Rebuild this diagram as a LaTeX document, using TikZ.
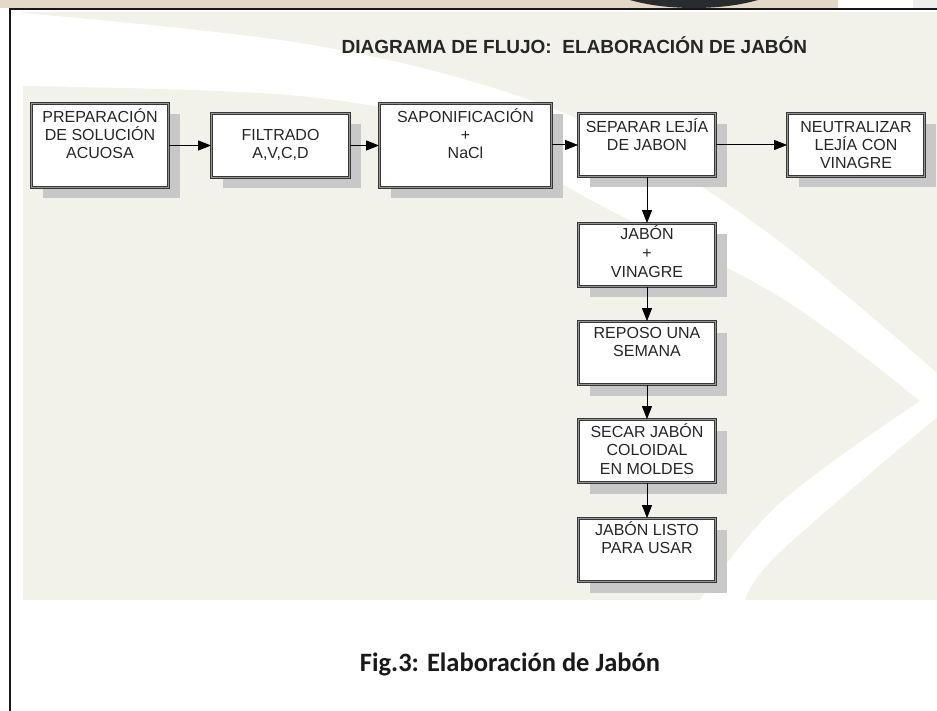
\documentclass[tikz,border=0pt]{standalone}
\usepackage{fontspec}
\setmainfont{Liberation Sans}
\newfontfamily\capfont{Carlito}
\usetikzlibrary{arrows.meta,shadows}
\definecolor{bgbeige}{RGB}{242,242,235}
\definecolor{tanstrip}{RGB}{227,217,198}
\definecolor{shadowgray}{RGB}{200,200,200}
\definecolor{borderdark}{RGB}{55,55,55}
\definecolor{bordergap}{RGB}{150,150,150}
\definecolor{darkoval}{RGB}{40,44,46}
\definecolor{stripgray}{RGB}{238,238,238}
\newcommand\firststrut{\rule{0pt}{15pt}}
\begin{document}
\begin{tikzpicture}[x=1pt,y=-1pt,
  stepbox/.style={draw=borderdark, line width=0.8pt, double=bordergap, double distance=1.4pt,
    fill=white, inner sep=0pt,
    general shadow={fill=shadowgray, shadow xshift=11pt, shadow yshift=-11pt}},
  boxtext/.style={anchor=north, inner sep=0pt, align=center,
    font=\fontsize{16}{18.4}\selectfont, text=black!85},
  flow/.style={draw=black, line width=1pt, -{Triangle[length=13pt,width=10pt]}}]
\useasboundingbox (0,0) rectangle (937,711);
% page decoration
\fill[white] (0,0) rectangle (937,711);
\fill[tanstrip] (0,0) rectangle (838,8);
\fill[stripgray] (913,0) rectangle (937,8);
\begin{scope}
  \clip (0,0) rectangle (937,8);
  \fill[darkoval] (694,-22) ellipse [x radius=94, y radius=30];
\end{scope}
% background of the figure
\fill[bgbeige] (23,12) rectangle (937,600);
\fill[white] plot[smooth, tension=0.6] coordinates
    {(23,13) (300,43) (500,90) (640,150) (780,242) (937,373)}
  -- (937,388) -- (920,401)
  -- plot[smooth, tension=0.6] coordinates
    {(920,401) (780,297) (600,205) (460,130) (300,96) (23,86)}
  -- cycle;
\fill[white] plot[smooth, tension=0.6] coordinates
    {(920,401) (780,503) (700,600)}
  -- (745,600)
  -- plot[smooth, tension=0.6] coordinates
    {(745,600) (780,552) (937,417)}
  -- (937,388) -- cycle;
% frame
\draw[line width=2pt, black!90] (10,711) -- (10,9) -- (937,9);
% title
\node[font=\bfseries\fontsize{19}{22}\selectfont, text=black!85, anchor=base] (title)
  at (574.5,54) {DIAGRAMA DE FLUJO:\ \ ELABORACIÓN DE JABÓN};
% boxes
\node[stepbox, minimum width=137pt, minimum height=84pt] (b1) at (100,145.5) {};
\node[stepbox, minimum width=138pt, minimum height=64pt] (b2) at (280.5,145.5) {};
\node[stepbox, minimum width=172pt, minimum height=84pt] (b3) at (465.5,145.5) {};
\node[stepbox, minimum width=137pt, minimum height=63pt] (b4) at (647,145) {};
\node[stepbox, minimum width=137pt, minimum height=63pt] (b5) at (856,145) {};
\node[stepbox, minimum width=137pt, minimum height=63pt] (b6) at (647,255) {};
\node[stepbox, minimum width=137pt, minimum height=63pt] (b7) at (647,353) {};
\node[stepbox, minimum width=137pt, minimum height=63pt] (b8) at (647,451) {};
\node[stepbox, minimum width=137pt, minimum height=63pt] (b9) at (647,550) {};
% texts
\node[boxtext] (t1) at (100,107) {\firststrut PREPARACIÓN\\DE SOLUCIÓN\\ACUOSA};
\node[boxtext] (t2) at (280.5,125) {\firststrut FILTRADO\\A,V,C,D};
\node[boxtext] (t3) at (465.5,107) {\firststrut SAPONIFICACIÓN\\+\\NaCl};
\node[boxtext] (t4) at (647,117) {\firststrut SEPARAR LEJÍA\\DE JABON};
\node[boxtext] (t5) at (856,117) {\firststrut NEUTRALIZAR\\LEJÍA CON\\VINAGRE};
\node[boxtext, font=\fontsize{16}{19}\selectfont] (t6) at (647,224) {\firststrut JABÓN\\+\\VINAGRE};
\node[boxtext] (t7) at (647,323) {\firststrut REPOSO UNA\\SEMANA};
\node[boxtext] (t8) at (647,422) {\firststrut SECAR JABÓN\\COLOIDAL\\EN MOLDES};
\node[boxtext] (t9) at (647,520) {\firststrut JABÓN LISTO\\PARA USAR};
% connectors
\draw[flow] (b1.east) -- (b1.east -| b2.west);
\draw[flow] (b2.east) -- (b2.east -| b3.west);
\draw[flow] (b3.east |- b4.west) -- (b4.west);
\draw[flow] (b4.east) -- (b5.west);
\draw[flow] (b4.south) -- (b6.north);
\draw[flow] (b6.south) -- (b7.north);
\draw[flow] (b7.south) -- (b8.north);
\draw[flow] (b8.south) -- (b9.north);
% caption
\node[font=\capfont\bfseries\fontsize{26.5}{30}\selectfont, text=black!90, anchor=base] (caption)
  at (510,671) {Fig.3: Elaboración de Jabón};
\end{tikzpicture}
\end{document}
